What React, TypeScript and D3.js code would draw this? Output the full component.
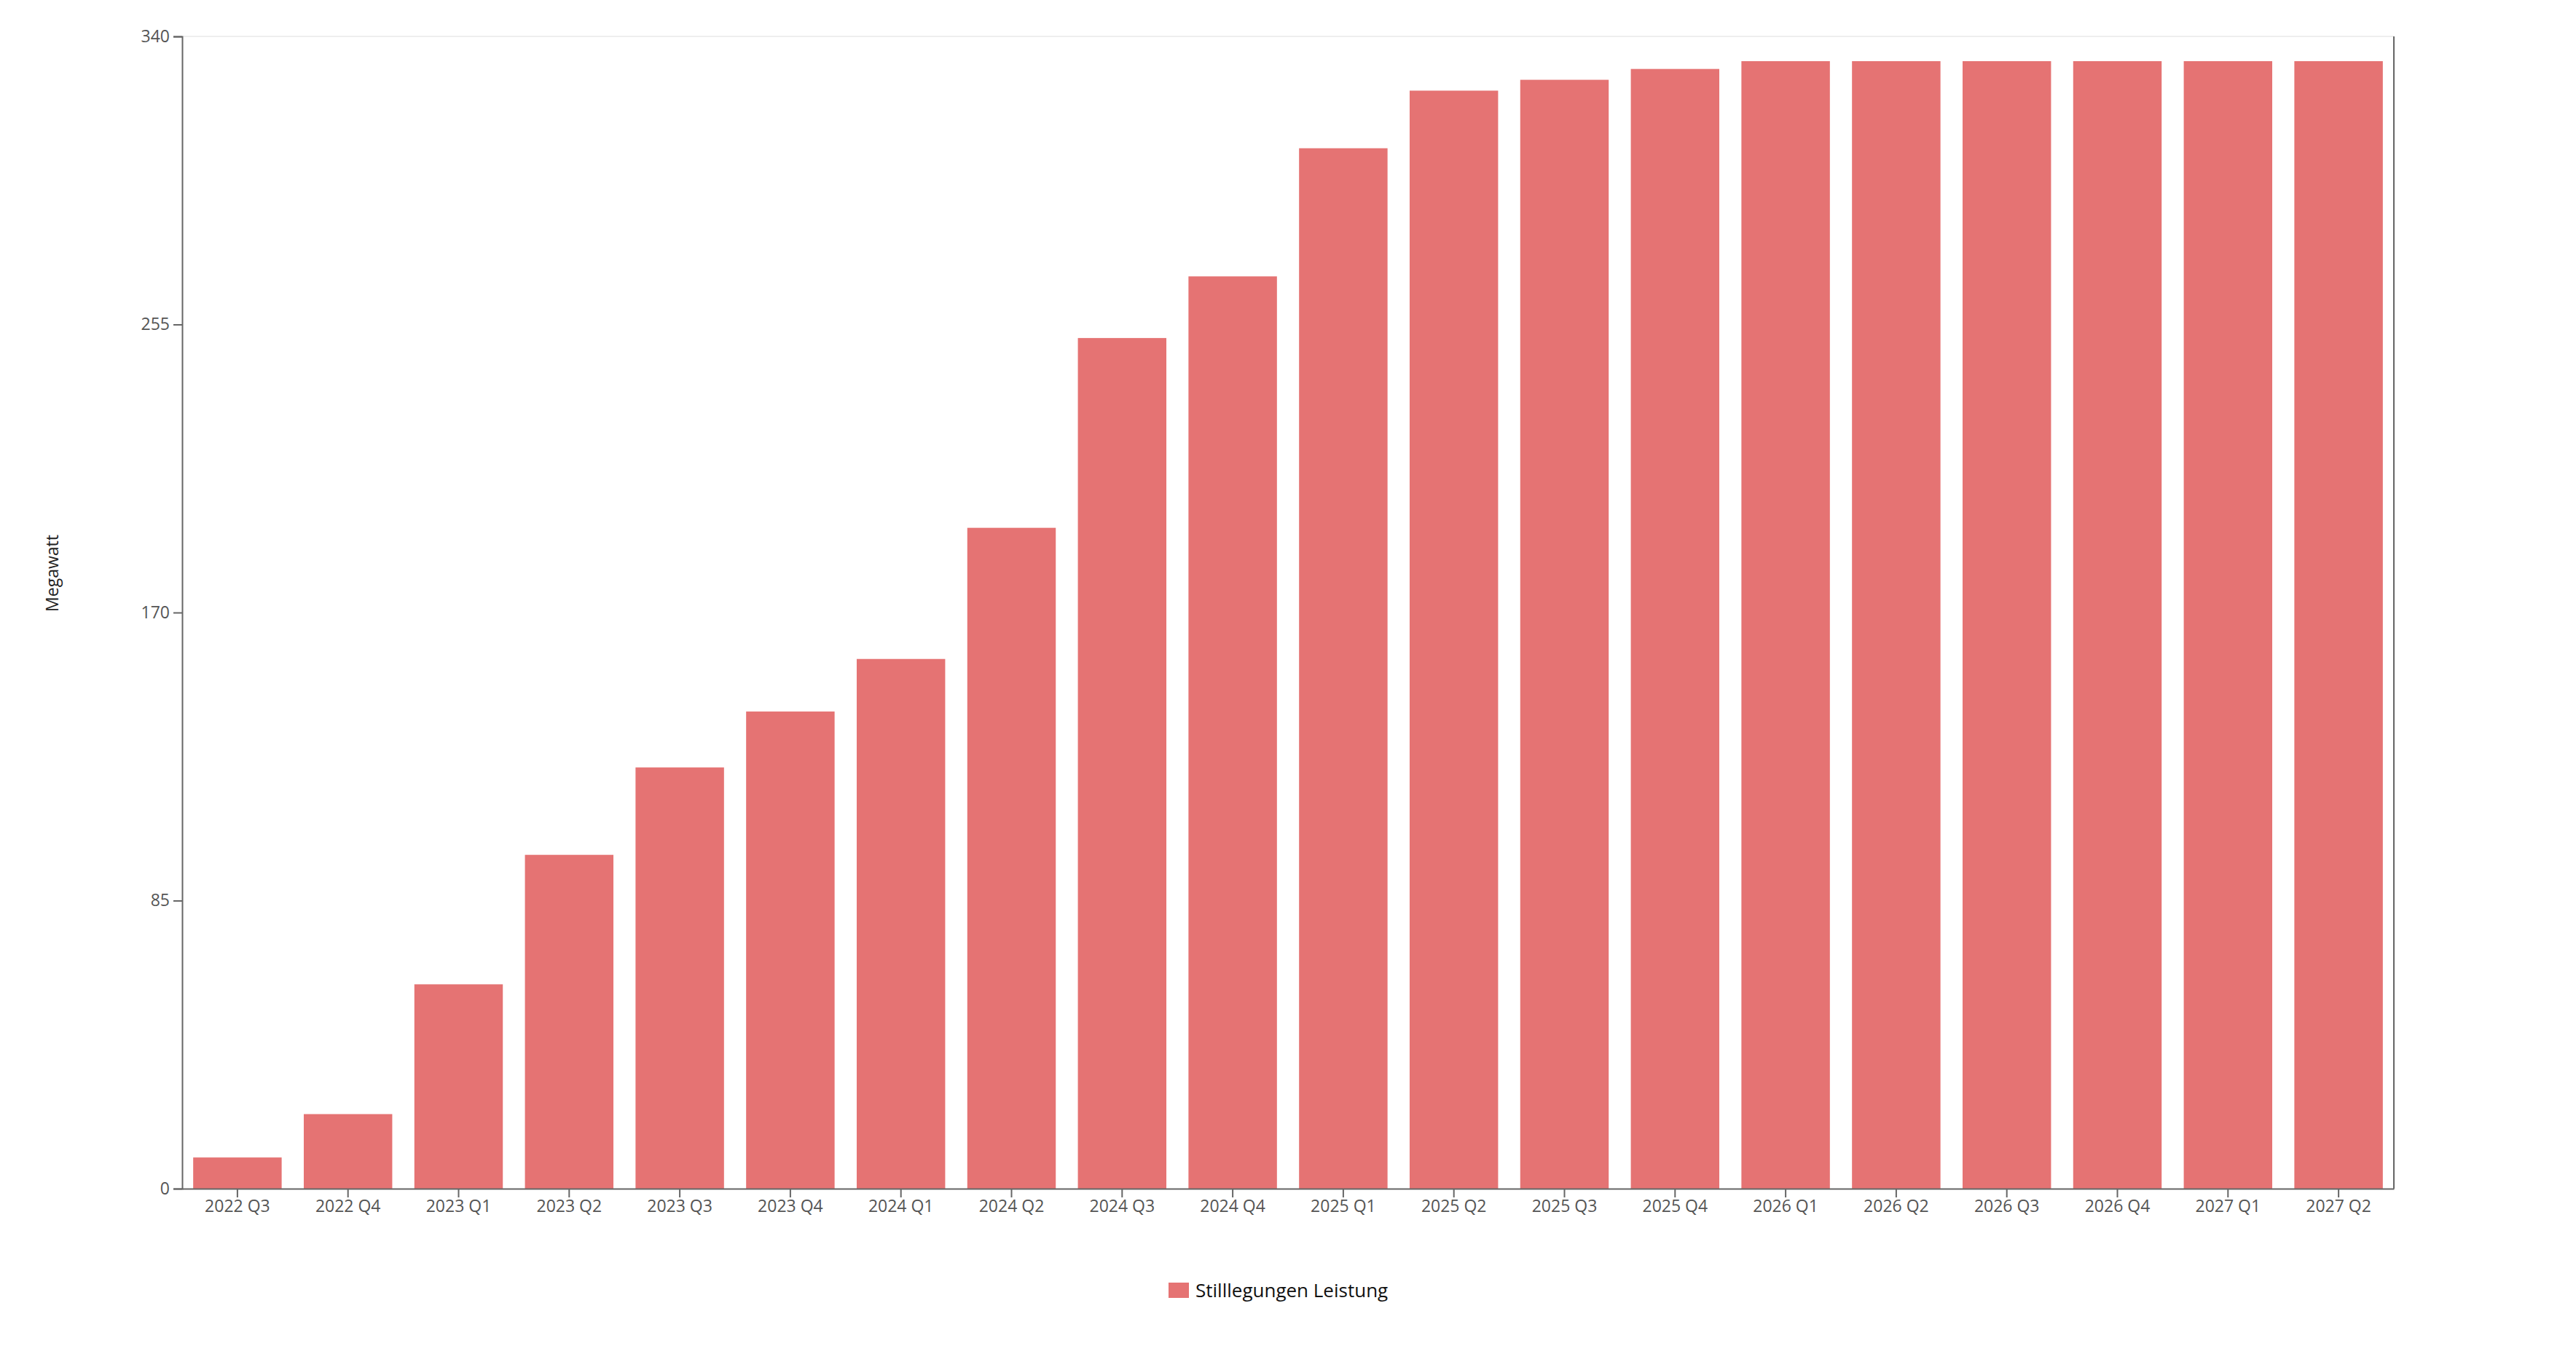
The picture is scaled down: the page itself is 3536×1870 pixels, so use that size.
import { useRef, useEffect } from "react"
import * as d3 from "d3"

const quarters = [
  "2022 Q3", "2022 Q4", "2023 Q1", "2023 Q2", "2023 Q3", "2023 Q4",
  "2024 Q1", "2024 Q2", "2024 Q3", "2024 Q4", "2025 Q1", "2025 Q2",
  "2025 Q3", "2025 Q4", "2026 Q1", "2026 Q2", "2026 Q3", "2026 Q4",
  "2027 Q1", "2027 Q2",
]
const leistung = [
  9.2, 22, 60.3, 98.5, 124.3, 140.8, 156.3, 195, 251, 269.2, 307, 324,
  327.2, 330.4, 332.7, 332.7, 332.7, 332.7, 332.7, 332.7,
]
const yTicks = [0, 85, 170, 255, 340]
const seriesName = "Stilllegungen Leistung"
const yLabel = "Megawatt"

const W = 3536
const H = 1870
const FONT = "'Open Sans', 'Noto Sans', sans-serif"
const BAR = "#e57373"
const AXIS = "#666"

export default function App() {
  const svgRef = useRef<SVGSVGElement>(null)

  useEffect(() => {
    document.body.style.margin = "0"
    if (!svgRef.current) return
    const svg = d3.select(svgRef.current)
    svg.selectAll("*").remove()

    const left = 250
    const right = 3286
    const top = 50
    const bottom = 1632

    const x = d3.scaleBand<string>().domain(quarters).range([left, right]).paddingInner(0.2).paddingOuter(0.1)
    const y = d3.scaleLinear().domain([0, 340]).range([bottom, top])

    // top frame line
    svg.append("line")
      .attr("x1", left).attr("x2", right)
      .attr("y1", top).attr("y2", top)
      .attr("stroke", "#eeeeee").attr("stroke-width", 2)

    // bars
    svg.append("g")
      .selectAll("rect")
      .data(leistung)
      .join("rect")
      .attr("x", (d, i) => x(quarters[i])!)
      .attr("y", (d) => y(d))
      .attr("width", x.bandwidth())
      .attr("height", (d) => y(0) - y(d))
      .attr("fill", BAR)

    // y axis
    const yAxis = svg.append("g")
      .attr("transform", `translate(${left},0)`)
      .call(d3.axisLeft(y).tickValues(yTicks).tickSize(12).tickPadding(5).tickFormat(d3.format("d")))
    yAxis.select(".domain").attr("stroke", AXIS).attr("stroke-width", 2)
    yAxis.selectAll(".tick line").attr("stroke", AXIS).attr("stroke-width", 2)
    yAxis.selectAll(".tick text")
      .attr("fill", "#555").attr("font-size", 23).attr("font-family", FONT)

    // x axis
    const xAxis = svg.append("g")
      .attr("transform", `translate(0,${bottom})`)
      .call(d3.axisBottom(x).tickSize(12).tickSizeOuter(0).tickPadding(4))
    xAxis.select(".domain").attr("stroke", AXIS).attr("stroke-width", 2)
    xAxis.selectAll(".tick line").attr("stroke", AXIS).attr("stroke-width", 2)
    xAxis.selectAll(".tick text")
      .attr("fill", "#555").attr("font-size", 23).attr("font-family", FONT)

    // right border
    svg.append("line")
      .attr("x1", right).attr("x2", right)
      .attr("y1", top).attr("y2", bottom)
      .attr("stroke", AXIS).attr("stroke-width", 2)

    // y label
    svg.append("text")
      .attr("transform", `translate(80,787) rotate(-90)`)
      .attr("text-anchor", "middle")
      .attr("font-size", 23)
      .attr("font-family", FONT)
      .attr("fill", "#222")
      .text(yLabel)

    // legend
    const legend = svg.append("g").attr("transform", "translate(1604,1772)")
    legend.append("rect")
      .attr("x", 0).attr("y", -11)
      .attr("width", 28).attr("height", 21)
      .attr("fill", BAR)
    legend.append("text")
      .attr("x", 37).attr("y", 0)
      .attr("dy", "0.35em")
      .attr("font-size", 26)
      .attr("font-family", FONT)
      .attr("fill", "#111")
      .text(seriesName)
  }, [])

  return <svg ref={svgRef} width={W} height={H} viewBox={`0 0 ${W} ${H}`} style={{ display: "block", background: "#fff" }} />
}
